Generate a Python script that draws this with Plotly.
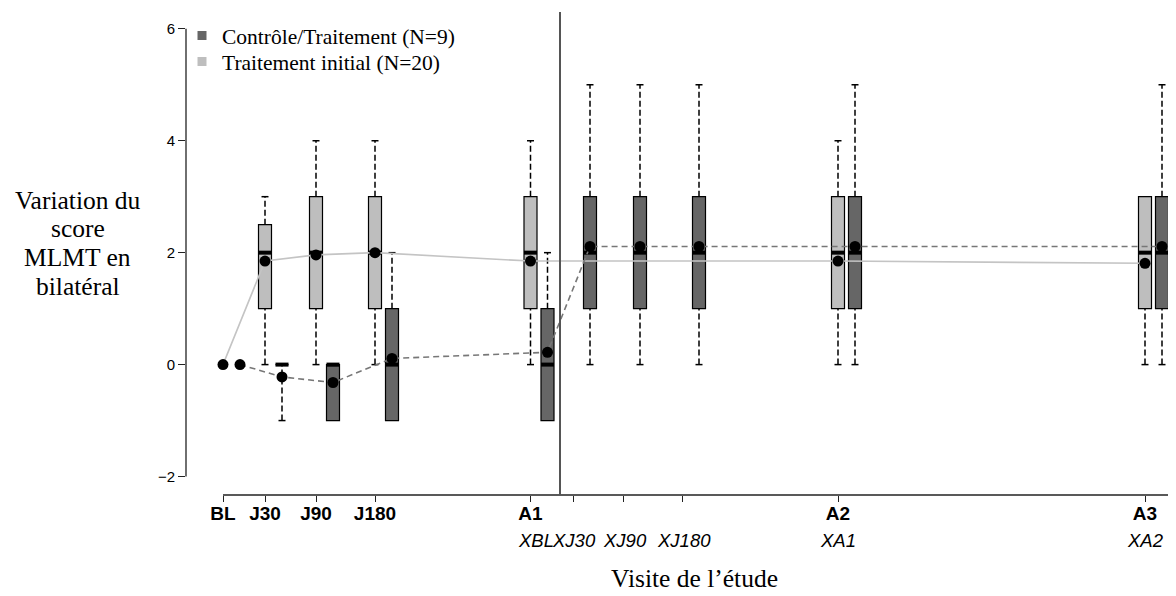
import plotly.graph_objects as go

# ---------------- data ----------------
visits = ["BL", "J30", "J90", "J180", "A1", "A2", "A3"]
visit_pos = [0, 42, 93, 152, 307.5, 615, 922]

ext_ticks_pos = [350, 400, 459]            # XJ30, XJ90, XJ180 tick marks
ext_labels = ["XBL", "XJ30", "XJ90", "XJ180", "XA1", "XA2"]
ext_label_pos = [313, 351, 402, 461, 615, 922]

crossover_pos = 337

y_title_lines = ["Variation du", "score", "MLMT en", "bilatéral"]
x_title = "Visite de l’étude"

# Traitement initial (N=20) - light
light_pos = [0, 42, 93, 152, 307.5, 615, 922]
light_q1 = [None, 1, 1, 1, 1, 1, 1]
light_med = [None, 2, 2, 2, 2, 2, 2]
light_q3 = [None, 2.5, 3, 3, 3, 3, 3]
light_lo = [None, 0, 0, 0, 0, 0, 0]
light_hi = [None, 3, 4, 4, 4, 4, 3]
light_mean = [0, 1.85, 1.96, 2.0, 1.85, 1.85, 1.81]

# Contrôle/Traitement (N=9) - dark
dark_pos = [0, 42, 93, 152, 307.5, 350, 400, 459, 615, 922]
dark_q1 = [None, 0, -1, -1, -1, 1, 1, 1, 1, 1]
dark_med = [None, 0, 0, 0, 0, 2, 2, 2, 2, 2]
dark_q3 = [None, 0, 0, 1, 1, 3, 3, 3, 3, 3]
dark_lo = [None, -1, -1, -1, -1, 0, 0, 0, 0, 0]
dark_hi = [None, 0, 0, 2, 2, 5, 5, 5, 5, 5]
dark_mean = [0, -0.22, -0.32, 0.11, 0.22, 2.11, 2.11, 2.11, 2.11, 2.11]

# ---------------- style ----------------
LIGHT = "#bebebe"
DARK = "#666666"
DARK_OFFSET = 17
BOX_W = 13
CAP_W = 7

# page geometry (page has an 8px body margin)
PLOT_L, PLOT_R, PLOT_T, PLOT_B = 186, 1176, 12, 495
PW, PH = PLOT_R - PLOT_L, PLOT_B - PLOT_T


def px_x(px):
    return (px - PLOT_L) / PW


def px_y(py):
    return (PLOT_B - py) / PH


fig = go.Figure()


def add_group(xs, q1, med, q3, lo, hi, fill):
    bx = [x for x, q in zip(xs, q1) if q is not None]
    b_q1 = [q for q in q1 if q is not None]
    b_med = [m for m, q in zip(med, q1) if q is not None]
    b_q3 = [m for m, q in zip(q3, q1) if q is not None]
    fig.add_trace(go.Box(
        x=bx, q1=b_q1, median=b_med, q3=b_q3,
        lowerfence=b_q1, upperfence=b_q3,
        width=BOX_W, fillcolor=fill,
        line=dict(color="black", width=1.2),
        boxpoints=False, showlegend=False, hoverinfo="skip",
    ))
    wx, wy, cx, cy, mx, my = [], [], [], [], [], []
    for x, a, m, b, l, h in zip(xs, q1, med, q3, lo, hi):
        if a is None:
            continue
        if h > b:
            wx += [x, x, None]; wy += [b, h, None]
            cx += [x - CAP_W / 2, x + CAP_W / 2, None]; cy += [h, h, None]
        if l < a:
            wx += [x, x, None]; wy += [l, a, None]
            cx += [x - CAP_W / 2, x + CAP_W / 2, None]; cy += [l, l, None]
        mx += [x - BOX_W / 2, x + BOX_W / 2, None]; my += [m, m, None]
    fig.add_trace(go.Scatter(x=wx, y=wy, mode="lines",
                             line=dict(color="black", width=1.5, dash="6px,3px"),
                             showlegend=False, hoverinfo="skip"))
    fig.add_trace(go.Scatter(x=cx, y=cy, mode="lines",
                             line=dict(color="black", width=1.5),
                             showlegend=False, hoverinfo="skip"))
    fig.add_trace(go.Scatter(x=mx, y=my, mode="lines",
                             line=dict(color="black", width=4),
                             showlegend=False, hoverinfo="skip"))


dark_x = [p + DARK_OFFSET for p in dark_pos]

add_group(light_pos, light_q1, light_med, light_q3, light_lo, light_hi, LIGHT)
add_group(dark_x, dark_q1, dark_med, dark_q3, dark_lo, dark_hi, DARK)

# mean lines
fig.add_trace(go.Scatter(x=light_pos, y=light_mean, mode="lines",
                         line=dict(color="#c4c4c4", width=1.6),
                         showlegend=False, hoverinfo="skip"))
fig.add_trace(go.Scatter(x=dark_x, y=dark_mean, mode="lines",
                         line=dict(color="#777777", width=1.6, dash="6px,4px"),
                         showlegend=False, hoverinfo="skip"))
# mean points
fig.add_trace(go.Scatter(x=light_pos, y=light_mean, mode="markers",
                         marker=dict(color="black", size=11),
                         showlegend=False, hoverinfo="skip"))
fig.add_trace(go.Scatter(x=dark_x, y=dark_mean, mode="markers",
                         marker=dict(color="black", size=11),
                         showlegend=False, hoverinfo="skip"))

# legend entries (two independent legends for exact row spacing)
fig.add_trace(go.Scatter(x=[None], y=[None], mode="markers", name="Contrôle/Traitement (N=9)",
                         marker=dict(symbol="square", size=9, color=DARK), legend="legend"))
fig.add_trace(go.Scatter(x=[None], y=[None], mode="markers", name="Traitement initial (N=20)",
                         marker=dict(symbol="square", size=9, color=LIGHT), legend="legend2"))

tickvals = visit_pos[:5] + ext_ticks_pos + visit_pos[5:]
ticktext = visits[:5] + ["", "", ""] + visits[5:]

legend_font = dict(family="Liberation Serif", size=21.5, color="black")

fig.update_layout(
    width=1168, height=588,
    margin=dict(l=PLOT_L - 8, r=0, t=PLOT_T - 8, b=588 - (PLOT_B - 8)),
    paper_bgcolor="white", plot_bgcolor="white",
    boxmode="overlay",
    showlegend=True,
    legend=dict(x=px_x(182), y=px_y(15), xanchor="left", yanchor="top",
                font=legend_font, bgcolor="rgba(0,0,0,0)", itemwidth=30),
    legend2=dict(x=px_x(182), y=px_y(41), xanchor="left", yanchor="top",
                 font=legend_font, bgcolor="rgba(0,0,0,0)", itemwidth=30),
    xaxis=dict(range=[-37, 953], showgrid=False, zeroline=False, showline=False,
               ticks="outside", ticklen=6, tickwidth=1.3, tickcolor="#222",
               tickvals=tickvals, ticktext=ticktext, ticklabelstandoff=-5,
               tickfont=dict(family="Liberation Sans", size=19, color="black", weight="bold")),
    yaxis=dict(range=[-2.33, 6.30], showgrid=False, zeroline=False, showline=False,
               ticks="outside", ticklen=7, tickwidth=1.3, tickcolor="#222",
               tickvals=[-2, 0, 2, 4, 6],
               tickfont=dict(family="Liberation Sans", size=15, color="black")),
    shapes=[
        dict(type="line", xref="paper", yref="y", x0=0, x1=0, y0=-2, y1=6,
             line=dict(color="#222", width=1.3)),
        dict(type="line", xref="x", yref="paper", x0=visit_pos[0], x1=953, y0=0, y1=0,
             line=dict(color="#222", width=1.3)),
        dict(type="line", xref="x", yref="paper", x0=crossover_pos, x1=crossover_pos, y0=0, y1=1,
             line=dict(color="#555", width=2)),
    ],
)

annotations = []
for lab, p in zip(ext_labels, ext_label_pos):
    annotations.append(dict(x=p, y=px_y(540), xref="x", yref="paper", text="<i>" + lab + "</i>",
                            showarrow=False, xanchor="center", yanchor="middle",
                            font=dict(family="Liberation Sans", size=18.5, color="black")))
annotations.append(dict(x=px_x(694), y=px_y(578), xref="paper", yref="paper",
                        text=x_title, showarrow=False,
                        xanchor="center", yanchor="middle",
                        font=dict(family="Liberation Serif", size=25.5, color="black")))
for i, line in enumerate(y_title_lines):
    annotations.append(dict(x=px_x(77.5), y=px_y(200 + 28.8 * i), xref="paper", yref="paper",
                            text=line, showarrow=False,
                            xanchor="center", yanchor="middle",
                            font=dict(family="Liberation Serif", size=25.5, color="black")))
fig.update_layout(annotations=annotations)

fig.write_html("out.html")
